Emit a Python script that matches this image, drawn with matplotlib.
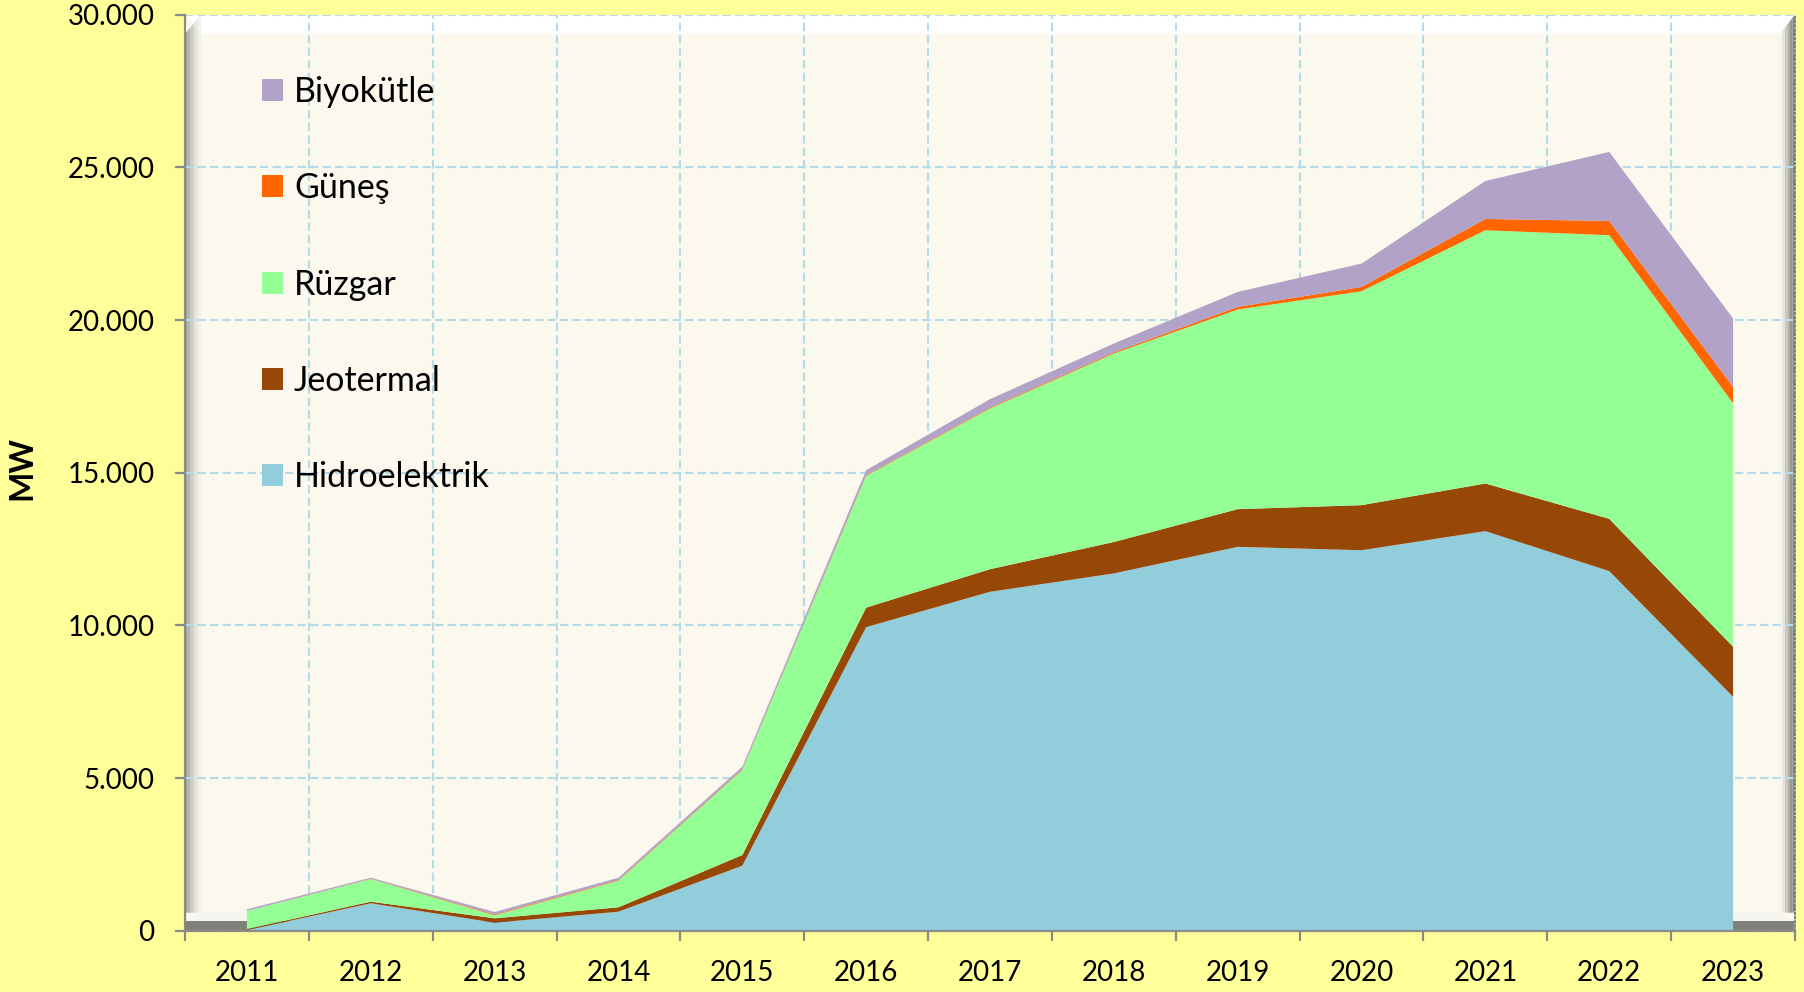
import matplotlib
matplotlib.use("Agg")
import matplotlib.pyplot as plt
from matplotlib.patches import Rectangle, Polygon
from matplotlib.ticker import FixedLocator, FuncFormatter

# ---------------- data ----------------
years = ["2011", "2012", "2013", "2014", "2015", "2016", "2017",
         "2018", "2019", "2020", "2021", "2022", "2023"]
hidroelektrik = [20, 897, 262, 622, 2128, 9943, 11099, 11701, 12572, 12460, 13086, 11777, 7660]
jeotermal = [35, 53, 144, 144, 350, 639, 741, 1029, 1234, 1477, 1561, 1713, 1640]
ruzgar = [590, 742, 98, 871, 2783, 4315, 5263, 6174, 6539, 7006, 8293, 9288, 7975]
gunes = [0, 8, 26, 23, 19, 23, 27, 36, 85, 142, 370, 467, 535]
biyokutle = [55, 35, 82, 75, 90, 163, 278, 292, 490, 765, 1245, 2260, 2240]
series_labels = ["Hidroelektrik", "Jeotermal", "Rüzgar", "Güneş", "Biyokütle"]
series_colors = ["#92CDDC", "#974806", "#94FF94", "#FF6600", "#B2A2C7"]
y_ticks = [0, 5000, 10000, 15000, 20000, 25000, 30000]
y_label = "MW"

FONT = ["Lato", "DejaVu Sans"]
plt.rcParams["font.family"] = FONT

W, H = 1804, 992
fig = plt.figure(figsize=(W / 100, H / 100), dpi=100, facecolor="#FFFF99")

# axes box in pixels
L, R, T, B = 185, 1795, 14.7, 930.7
ax = fig.add_axes([L / W, 1 - B / H, (R - L) / W, (B - T) / H])
ax.set_facecolor("#FBF8EE")
aw, ah = R - L, B - T

def fx(px):
    return px / aw

def fy(px):
    return px / ah

# ---- 3D-like wall bevels (background decoration) ----
tr = ax.transAxes
# top white bevel
ax.add_patch(Polygon([(0, 1), (1, 1), (1 - fx(15), 1 - fy(19)), (fx(16), 1 - fy(19))],
                     closed=True, transform=tr, facecolor="#FFFFFF", edgecolor="none", zorder=0.2))
# left bevel gradient
left_cols = ["#9E9E98", "#B5B5AE", "#C9C9C2", "#DADAD3", "#E8E8E1", "#F2F1EA"]
n = len(left_cols)
for i, c in enumerate(left_cols):
    ax.add_patch(Polygon([(fx(16 * i / n), fy(18)), (fx(16 * (i + 1) / n), fy(18)),
                          (fx(16 * (i + 1) / n), 1 - fy(19) * (1 - (i + 1) / n)),
                          (fx(16 * i / n), 1 - fy(19) * (1 - i / n))],
                         closed=True, transform=tr, facecolor=c, edgecolor="none", zorder=0.2))
# right bevel gradient (light -> dark)
right_cols = ["#F4F3EC", "#E2E1DA", "#CACAC3", "#B0B0AA", "#98988F", "#858580"]
n = len(right_cols)
for i, c in enumerate(right_cols):
    x0 = 1 - fx(15) + fx(15 * i / n)
    x1 = 1 - fx(15) + fx(15 * (i + 1) / n)
    ax.add_patch(Polygon([(x0, fy(18)), (x1, fy(18)),
                          (x1, 1 - fy(19) * (1 - (i + 1) / n)),
                          (x0, 1 - fy(19) * (1 - i / n))],
                         closed=True, transform=tr, facecolor=c, edgecolor="none", zorder=0.2))
# floor: white bevel + dark strip
ax.add_patch(Polygon([(0, fy(10)), (1, fy(10)), (1 - fx(15), fy(18)), (fx(16), fy(18))],
                     closed=True, transform=tr, facecolor="#F6F5EF", edgecolor="none", zorder=0.25))
ax.add_patch(Rectangle((0, 0), 1, fy(10), transform=tr, facecolor="#807F7A",
                       edgecolor="none", zorder=0.25))

# ---- data ----
x = list(range(len(years)))
polys = ax.stackplot(x, hidroelektrik, jeotermal, ruzgar, gunes, biyokutle,
                     colors=series_colors, labels=series_labels, linewidth=0, zorder=2)

ax.set_xlim(-0.5, len(years) - 0.5)
ax.set_ylim(0, 30000)

# x ticks: boundaries as major (ticks + grid), centers as minor (labels)
ax.xaxis.set_major_locator(FixedLocator([i - 0.5 for i in range(len(years) + 1)]))
ax.xaxis.set_minor_locator(FixedLocator(x))
ax.set_xticklabels([], minor=False)
ax.set_xticklabels(years, minor=True)
ax.tick_params(axis="x", which="major", direction="out", length=7, width=1.6,
               color="#8A8A8A", labelbottom=False)
ax.tick_params(axis="x", which="minor", length=0, pad=21, labelsize=20)

ax.set_yticks(y_ticks)
ax.yaxis.set_major_formatter(FuncFormatter(lambda v, p: f"{int(v):,}".replace(",", ".")))
ax.tick_params(axis="y", direction="out", length=7, width=1.6, color="#8A8A8A",
               pad=15, labelsize=20)

ax.set_axisbelow(True)
grid_kw = dict(color="#B4DCE8", linewidth=1.5, linestyle=(0, (4, 2)))
ax.grid(True, axis="y", which="major", **grid_kw)
ax.grid(True, axis="x", which="major", **grid_kw)

for s in ["top"]:
    ax.spines[s].set_visible(False)
ax.spines["right"].set_color("#6E6E6E")
ax.spines["right"].set_linestyle((0, (1, 1.5)))
ax.spines["right"].set_linewidth(1.2)
for s in ["left", "bottom"]:
    ax.spines[s].set_color("#8A8A8A")
    ax.spines[s].set_linewidth(1.6)

# y label
fig.text(21.7 / W, 1 - 468 / H, y_label, rotation=90, ha="center", va="center",
         fontsize=23, fontweight="bold", family=FONT)

# legend (top-to-bottom: Biyokütle ... Hidroelektrik)
leg = ax.legend(polys[::-1], series_labels[::-1], loc="upper left",
                bbox_to_anchor=(fx(264 - L - 2), 1 - fy(76 - T)),
                frameon=False, fontsize=24.5, handlelength=0.62, handleheight=0.62,
                handletextpad=0.32, labelspacing=1.89, borderpad=0, borderaxespad=0)
for t in leg.get_texts():
    t.set_color("black")

fig.savefig("out.png", dpi=100, facecolor=fig.get_facecolor())
